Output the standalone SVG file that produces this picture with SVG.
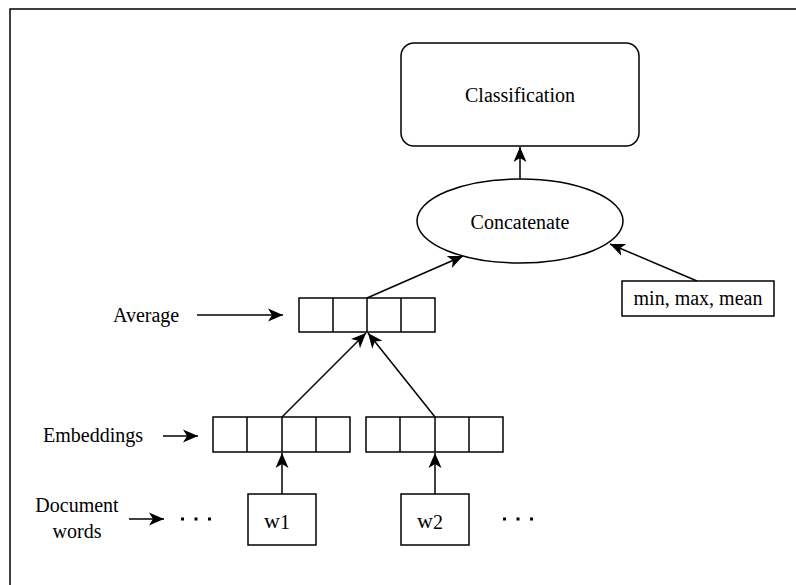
<svg xmlns="http://www.w3.org/2000/svg" width="796" height="585" viewBox="0 0 796 585">
<defs>
<marker id="arr" markerUnits="userSpaceOnUse" markerWidth="16" markerHeight="14" viewBox="0 0 16 14" refX="15" refY="7" orient="auto">
<path d="M0,0.5 L15,7 L0,13.5 L4,7 z" fill="#000"/>
</marker>
<style>
.s{fill:#fff;stroke:#000;stroke-width:1.5}
.c{fill:none;stroke:#000;stroke-width:1.5}
.l{fill:none;stroke:#000;stroke-width:1.5;marker-end:url(#arr)}
.m{text-anchor:middle}
</style>
</defs>
<rect width="796" height="585" fill="#fff"/>
<rect x="10" y="9" width="810" height="600" class="c"/>
<g id="connectors">
<line x1="520" y1="179" x2="520" y2="147" class="l"/>
<line x1="367" y1="298" x2="463" y2="256" class="l"/>
<line x1="697" y1="281" x2="610" y2="244" class="l"/>
<line x1="282" y1="417" x2="366" y2="333" class="l"/>
<line x1="435" y1="417" x2="368" y2="333" class="l"/>
<line x1="282" y1="494" x2="282" y2="453" class="l"/>
<line x1="435" y1="494" x2="435" y2="453" class="l"/>
<line x1="197" y1="315" x2="283" y2="315" class="l"/>
<line x1="163" y1="436" x2="198" y2="436" class="l"/>
<line x1="129" y1="519" x2="164" y2="519" class="l"/>
</g>
<g font-family="Liberation Serif" font-size="20" fill="#000">
<g id="classification">
<rect x="401" y="43" width="238" height="103" rx="13" class="s"/>
<text x="520" y="102" class="m">Classification</text>
</g>
<g id="concatenate">
<ellipse cx="520" cy="221" rx="103" ry="42" class="s"/>
<text x="520" y="229" class="m">Concatenate</text>
</g>
<g id="stats">
<rect x="622" y="281" width="152" height="35" class="s"/>
<text x="698" y="305" class="m">min, max, mean</text>
</g>
<g id="average">
<rect x="299" y="298" width="136" height="34" class="s"/>
<path d="M333,298V332M367,298V332M401,298V332" class="c"/>
</g>
<g id="embedding1">
<rect x="213" y="417" width="137" height="35" class="s"/>
<path d="M247,417V452M282,417V452M316,417V452" class="c"/>
</g>
<g id="embedding2">
<rect x="366" y="417" width="137" height="35" class="s"/>
<path d="M400,417V452M435,417V452M469,417V452" class="c"/>
</g>
<g id="w1">
<rect x="248" y="494" width="68" height="51" class="s"/>
<text x="264" y="528" font-size="22">w<tspan font-size="20" dy="1">1</tspan></text>
</g>
<g id="w2">
<rect x="401" y="494" width="68" height="51" class="s"/>
<text x="417" y="528" font-size="22">w<tspan font-size="20" dy="1">2</tspan></text>
</g>
<g id="labels">
<text x="113" y="322">Average</text>
<text x="43" y="442">Embeddings</text>
<text x="77" y="512" class="m">Document</text>
<text x="77" y="538" class="m">words</text>
</g>
</g>
<g id="dots" fill="#000">
<rect x="181" y="517.5" width="3" height="3"/>
<rect x="194.5" y="517.5" width="3" height="3"/>
<rect x="208" y="517.5" width="3" height="3"/>
<rect x="503" y="517.5" width="3" height="3"/>
<rect x="516.5" y="517.5" width="3" height="3"/>
<rect x="530" y="517.5" width="3" height="3"/>
</g>
</svg>
